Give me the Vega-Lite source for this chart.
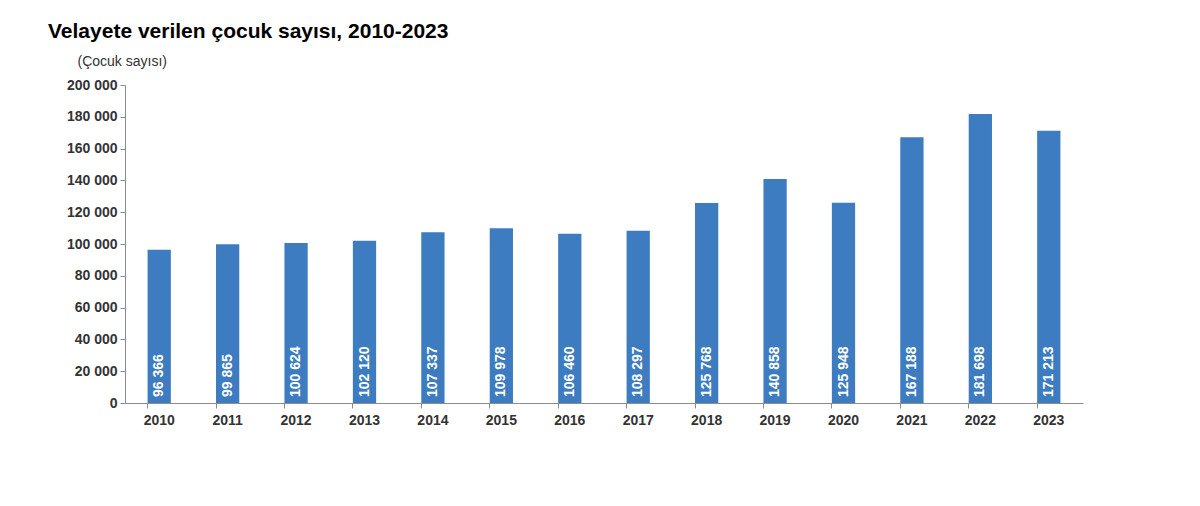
{
  "$schema": "https://vega.github.io/schema/vega-lite/v6.json",
  "width": 958,
  "height": 318,
  "autosize": "none",
  "padding": {"left": 125, "top": 85, "right": 117, "bottom": 103},
  "background": "white",
  "config": {
    "view": {"stroke": null},
    "font": "Liberation Sans",
    "locale": {"number": {"decimal": ",", "thousands": " ", "grouping": [3], "currency": ["", ""]}}
  },
  "title": {
    "text": "Velayete verilen çocuk sayısı, 2010-2023",
    "anchor": "start",
    "frame": "group",
    "fontSize": 21,
    "fontWeight": "bold",
    "font": "Liberation Sans",
    "color": "#000000",
    "dx": -77,
    "offset": 12
  },
  "data": {
    "values": [
      {"year": "2010", "count": 96366},
      {"year": "2011", "count": 99865},
      {"year": "2012", "count": 100624},
      {"year": "2013", "count": 102120},
      {"year": "2014", "count": 107337},
      {"year": "2015", "count": 109978},
      {"year": "2016", "count": 106460},
      {"year": "2017", "count": 108297},
      {"year": "2018", "count": 125768},
      {"year": "2019", "count": 140858},
      {"year": "2020", "count": 125948},
      {"year": "2021", "count": 167188},
      {"year": "2022", "count": 181698},
      {"year": "2023", "count": 171213}
    ]
  },
  "encoding": {
    "x": {
      "field": "year",
      "type": "ordinal",
      "scale": {"paddingInner": 0.66, "paddingOuter": 0.33},
      "axis": {
        "title": null,
        "labelAngle": 0,
        "labelFontSize": 14,
        "labelFontWeight": "bold",
        "labelColor": "#333333",
        "labelPadding": 5,
        "domainColor": "#8c8c8c",
        "tickColor": "#8c8c8c",
        "tickSize": 5,
        "bandPosition": 0
      }
    },
    "y": {
      "field": "count",
      "type": "quantitative",
      "scale": {"domain": [0, 200000], "nice": false},
      "axis": {
        "title": "(Çocuk sayısı)",
        "titleAngle": 0,
        "titleAlign": "left",
        "titleBaseline": "middle",
        "titleX": -48,
        "titleY": -24,
        "titleFontSize": 14,
        "titleFontWeight": "normal",
        "titleColor": "#333333",
        "values": [0, 20000, 40000, 60000, 80000, 100000, 120000, 140000, 160000, 180000, 200000],
        "format": ",d",
        "grid": false,
        "labelFontSize": 14,
        "labelFontWeight": "bold",
        "labelColor": "#333333",
        "labelPadding": 3,
        "domainColor": "#8c8c8c",
        "tickColor": "#8c8c8c",
        "tickSize": 5
      }
    }
  },
  "layer": [
    {"mark": {"type": "bar", "color": "#3d7cc0"}},
    {
      "mark": {
        "type": "text",
        "angle": 270,
        "align": "left",
        "baseline": "middle",
        "dx": 6,
        "color": "white",
        "fontSize": 14,
        "fontWeight": "bold"
      },
      "encoding": {
        "y": {"datum": 0, "type": "quantitative"},
        "text": {"field": "count", "type": "quantitative", "format": ",d"}
      }
    }
  ]
}
